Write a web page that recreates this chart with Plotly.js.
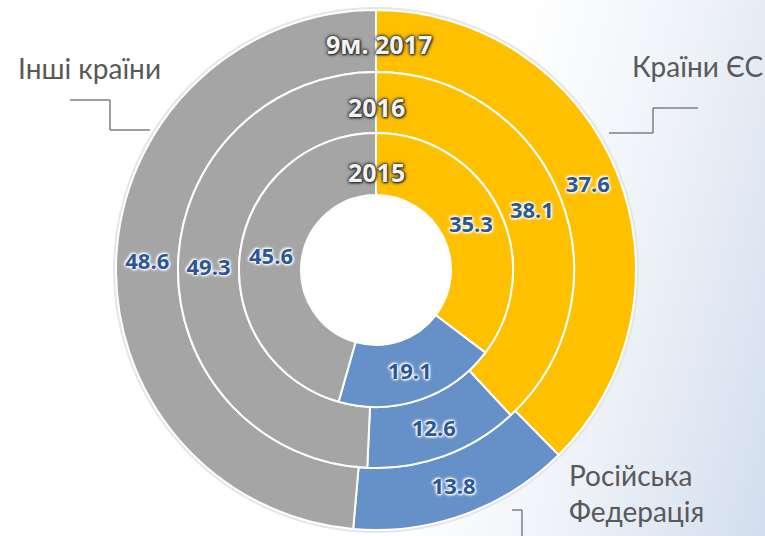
<!DOCTYPE html>
<html>
<head>
<meta charset="utf-8">
<script src="https://cdn.plot.ly/plotly-3.0.1.min.js"></script>
<style>
  html, body { margin: 0; padding: 0; background: #ffffff; }
  #chart { width: 765px; height: 536px;
    background: linear-gradient(105deg, #ffffff 0%, #ffffff 58%, #eef2f8 78%, #d2deee 100%); }
</style>
</head>
<body>
<div id="chart"></div>
<script>
// ---- data ----
const categories = ["Країни ЄС", "Російська Федерація", "Інші країни"];
const years = ["2015", "2016", "9м. 2017"];
const values2015 = [35.3, 19.1, 45.6];
const values2016 = [38.1, 12.6, 49.3];
const values2017 = [37.6, 13.8, 48.6];
const colors = ["#FFC000", "#6690C8", "#A5A5A5"];

// ---- geometry (pixels) ----
const W = 765, H = 536;
const cx = 376, cy = 270;           // centre, px from top-left
const rHole = 75, r1 = 137, r2 = 198, r3 = 260;

function dom(r) {
  return {
    x: [(cx - r) / W, (cx + r) / W],
    y: [(H - cy - r) / H, (H - cy + r) / H]
  };
}
const px = x => x / W;
const py = y => 1 - y / H;

const labelFont = {
  family: "'Open Sans', 'Noto Sans', sans-serif",
  size: 22, color: "#2B5797", weight: 700,
  shadow: "0 0 2px #fff, 0 0 3px #fff, 0 0 4px #fff, 1px 1px 2px #fff, -1px -1px 2px #fff"
};

function ring(vals, r, hole, name) {
  return {
    type: "pie",
    name: name,
    labels: categories,
    values: vals,
    sort: false,
    direction: "clockwise",
    rotation: 0,
    hole: hole,
    domain: dom(r),
    marker: { colors: colors, line: { color: "#ffffff", width: 2 } },
    texttemplate: "%{value:.1f}",
    textposition: "inside",
    insidetextorientation: "horizontal",
    textfont: labelFont,
    hoverinfo: "none",
    showlegend: false
  };
}

const data = [
  ring(values2017, r3, r2 / r3, years[2]),
  ring(values2016, r2, r1 / r2, years[1]),
  ring(values2015, r1, rHole / r1, years[0])
];

const yearFont = {
  family: "'Open Sans', 'Noto Sans', sans-serif", size: 25, color: "#F4F4F4", weight: 700,
  shadow: "0 0 2px #222, 0 0 3px #333, 0 0 4px #444, 1px 1px 2px #333"
};
const catFont = { family: "Lato, 'Open Sans', sans-serif", size: 28, color: "#595959" };

const annotations = [
  { text: years[2], x: px(cx + 3), y: py(44), font: yearFont },
  { text: years[1], x: px(cx), y: py(107), font: yearFont },
  { text: years[0], x: px(cx), y: py(172), font: yearFont },
  { text: categories[2], x: px(89), y: py(68), font: catFont },
  { text: categories[0], x: px(697), y: py(66), font: catFont },
  { text: "Російська<br>Федерація", x: px(567), y: py(493), xanchor: "left", align: "left", font: catFont }
].map(a => Object.assign({ xref: "paper", yref: "paper", showarrow: false, xanchor: "center", yanchor: "middle" }, a));

const lineStyle = { color: "#7F7F7F", width: 1.5 };
function seg(x0, y0, x1, y1) {
  return { type: "line", xref: "paper", yref: "paper", x0: px(x0), y0: py(y0), x1: px(x1), y1: py(y1), line: lineStyle };
}
const shapes = [
  { type: "circle", xref: "paper", yref: "paper", layer: "below",
    x0: px(cx - r3 - 1), x1: px(cx + r3 + 1), y0: py(cy + r3 + 1), y1: py(cy - r3 - 1),
    line: { color: "#E6E6E6", width: 4 }, fillcolor: "rgba(0,0,0,0)" },
  seg(70, 100, 110, 100), seg(110, 100, 110, 130), seg(110, 130, 150, 130),
  seg(609, 133, 653, 133), seg(653, 133, 653, 108), seg(653, 108, 698, 108),
  seg(512, 510, 522, 510), seg(522, 510, 522, 540)
];

const layout = {
  width: W, height: H,
  margin: { l: 0, r: 0, t: 0, b: 0 },
  paper_bgcolor: "rgba(0,0,0,0)",
  plot_bgcolor: "rgba(0,0,0,0)",
  showlegend: false,
  uniformtext: { mode: "show", minsize: 22 },
  annotations: annotations,
  shapes: shapes
};

Plotly.newPlot("chart", data, layout, { displayModeBar: false, staticPlot: true });
</script>
</body>
</html>
